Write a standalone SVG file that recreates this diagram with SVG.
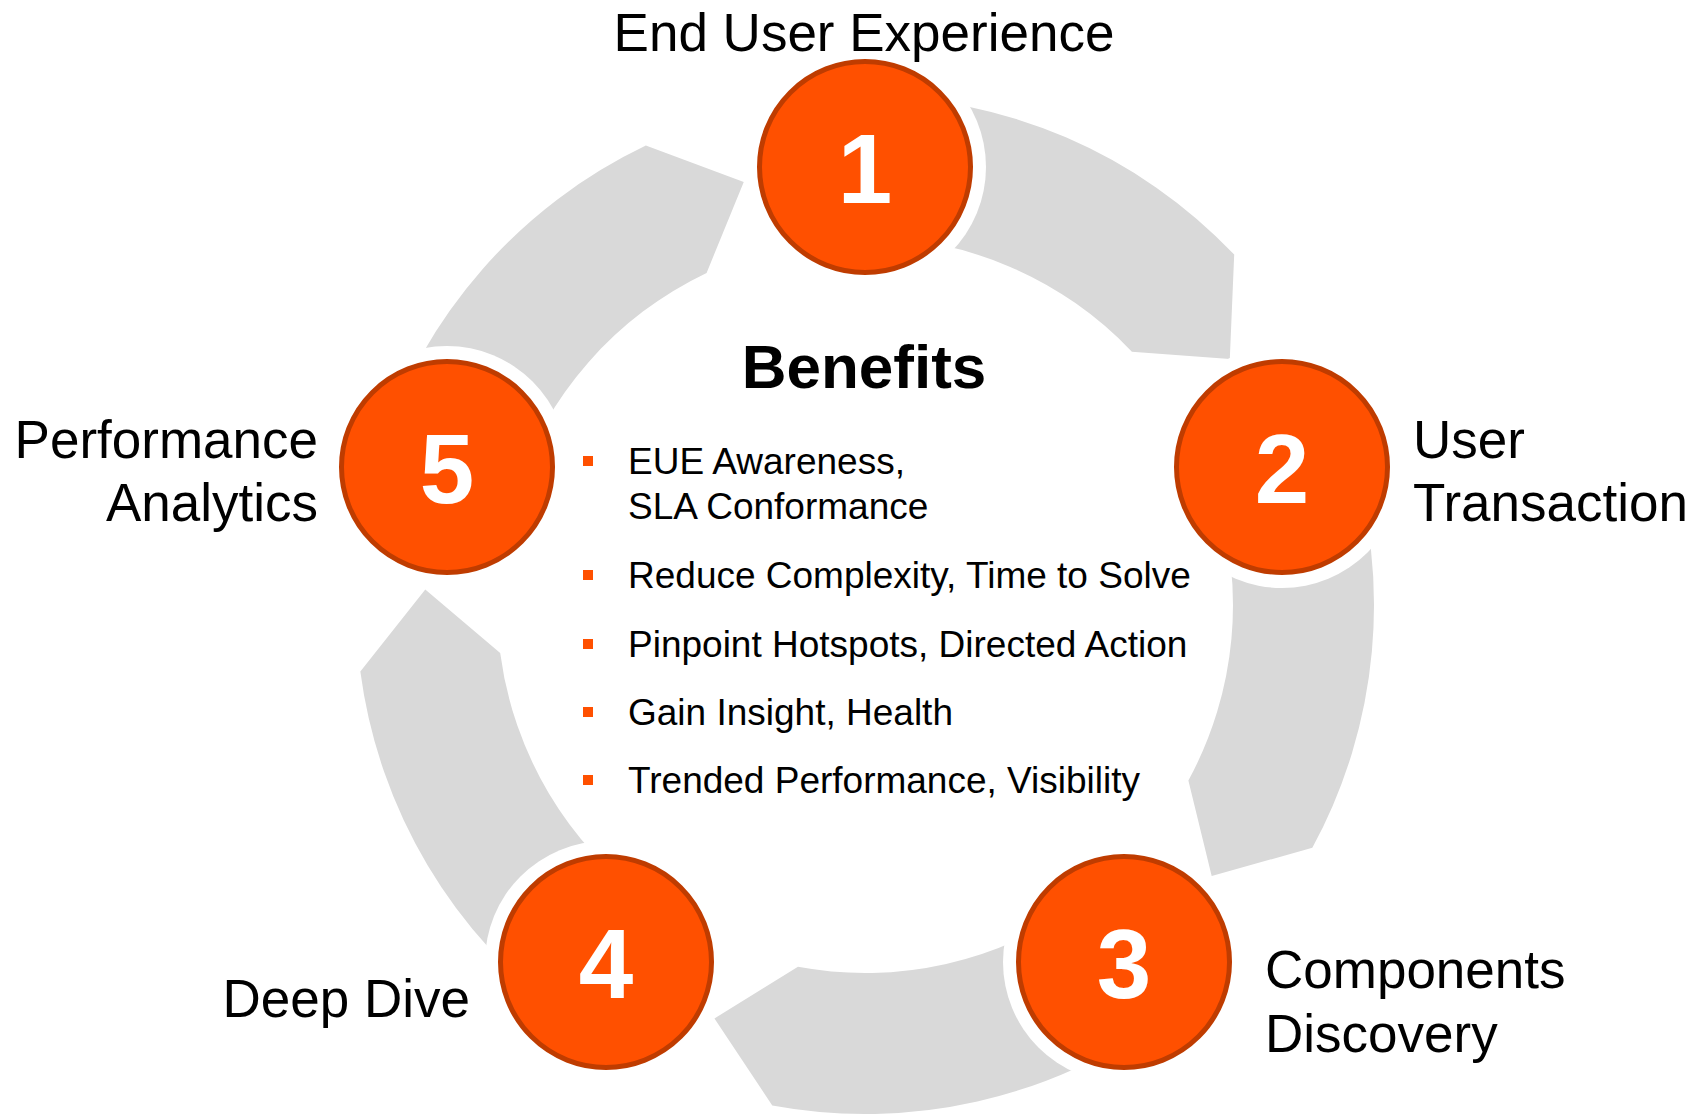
<svg xmlns="http://www.w3.org/2000/svg" xmlns:xlink="http://www.w3.org/1999/xlink" width="1701" height="1115" viewBox="0 0 1701 1115">
  <style>
    .band { fill: #D9D9D9; }
    .halo { fill: #FFFFFF; }
    .disc { fill: #FF5000; stroke: #BF3C00; stroke-width: 5; }
    .num { font-family: "Liberation Sans", Arial, sans-serif; font-weight: bold; font-size: 98px; fill: #FFFFFF; text-anchor: middle; }
    .label { font-family: "Liberation Sans", Arial, sans-serif; font-size: 53px; fill: #000000; }
    .title { font-family: "Liberation Sans", Arial, sans-serif; font-weight: bold; font-size: 62px; fill: #000000; text-anchor: middle; }
    .item { font-family: "Liberation Sans", Arial, sans-serif; font-size: 37px; fill: #000000; }
    .bullet { fill: #FF5000; }
  </style>
  <defs>
    <path id="bandShape" d="M 865 96 A 509 509 0 0 1 1234.2 254.6 L 1229.8 359.0 L 1131.9 351.7 A 368 368 0 0 0 865 237 Z"/>
  </defs>
  <rect x="0" y="0" width="1701" height="1115" fill="#FFFFFF"/>

  <g id="connectors">
    <use xlink:href="#bandShape" href="#bandShape" class="band"/>
    <use xlink:href="#bandShape" href="#bandShape" class="band" transform="rotate(72 865 605)"/>
    <use xlink:href="#bandShape" href="#bandShape" class="band" transform="rotate(144 865 605)"/>
    <use xlink:href="#bandShape" href="#bandShape" class="band" transform="rotate(216 865 605)"/>
    <use xlink:href="#bandShape" href="#bandShape" class="band" transform="rotate(288 865 605)"/>
  </g>

  <g id="node1">
    <circle class="halo" cx="865" cy="167" r="121"/>
    <circle class="disc" cx="865" cy="167" r="105.5"/>
    <text class="num" x="865" y="203">1</text>
    <text class="label" x="864" y="51" text-anchor="middle">End User Experience</text>
  </g>

  <g id="node2">
    <circle class="halo" cx="1282" cy="467" r="121"/>
    <circle class="disc" cx="1282" cy="467" r="105.5"/>
    <text class="num" x="1282" y="503">2</text>
    <text class="label" x="1413" y="458">User</text>
    <text class="label" x="1413" y="521">Transaction</text>
  </g>

  <g id="node3">
    <circle class="halo" cx="1124" cy="962" r="121"/>
    <circle class="disc" cx="1124" cy="962" r="105.5"/>
    <text class="num" x="1124" y="998">3</text>
    <text class="label" x="1265" y="988">Components</text>
    <text class="label" x="1265" y="1052">Discovery</text>
  </g>

  <g id="node4">
    <circle class="halo" cx="606" cy="962" r="121"/>
    <circle class="disc" cx="606" cy="962" r="105.5"/>
    <text class="num" x="606" y="998">4</text>
    <text class="label" x="470" y="1017" text-anchor="end">Deep Dive</text>
  </g>

  <g id="node5">
    <circle class="halo" cx="447" cy="467" r="121"/>
    <circle class="disc" cx="447" cy="467" r="105.5"/>
    <text class="num" x="447" y="503">5</text>
    <text class="label" x="318" y="458" text-anchor="end">Performance</text>
    <text class="label" x="318" y="521" text-anchor="end">Analytics</text>
  </g>

  <g id="benefits">
    <text class="title" x="864" y="388">Benefits</text>
    <rect class="bullet" x="583" y="456" width="10" height="10"/>
    <text class="item" x="628" y="474">EUE Awareness,</text>
    <text class="item" x="628" y="519">SLA Conformance</text>
    <rect class="bullet" x="583" y="570" width="10" height="10"/>
    <text class="item" x="628" y="588">Reduce Complexity, Time to Solve</text>
    <rect class="bullet" x="583" y="639" width="10" height="10"/>
    <text class="item" x="628" y="657">Pinpoint Hotspots, Directed Action</text>
    <rect class="bullet" x="583" y="707" width="10" height="10"/>
    <text class="item" x="628" y="725">Gain Insight, Health</text>
    <rect class="bullet" x="583" y="775" width="10" height="10"/>
    <text class="item" x="628" y="793">Trended Performance, Visibility</text>
  </g>
</svg>
